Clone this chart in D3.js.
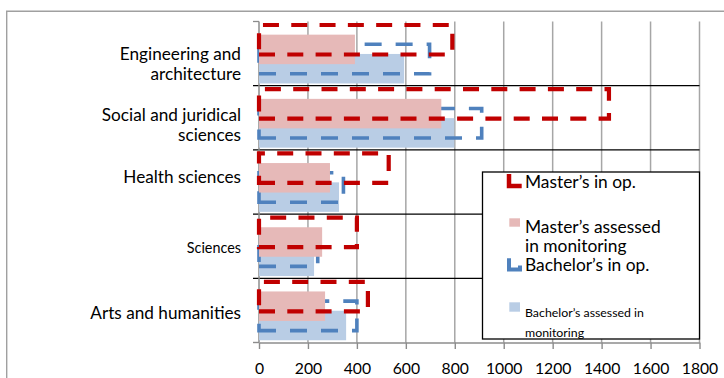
<!DOCTYPE html>
<html><head><meta charset="utf-8">
<script src="https://cdn.jsdelivr.net/npm/d3@7"></script>
<style>body{margin:0;background:#fff}svg{display:block}</style>
</head><body><svg id="c" width="724" height="378"></svg>
<script>
// ---------------- data ----------------
const categories = ["Engineering and architecture", "Social and juridical sciences", "Health sciences", "Sciences", "Arts and humanities"];
const categoryLines = [["Engineering and", "architecture"], ["Social and juridical", "sciences"], ["Health sciences"], ["Sciences"], ["Arts and humanities"]];
const mastersInOp = [790, 1430, 530, 400, 445];
const mastersAssessed = [392, 745, 290, 258, 270];
const bachelorsInOp = [697, 910, 345, 240, 400];
const bachelorsAssessed = [593, 798, 327, 225, 356];
const xTicks = [0, 200, 400, 600, 800, 1000, 1200, 1400, 1600, 1800];
const seriesNames = ["Master’s in op.", "Master’s assessed in monitoring", "Bachelor’s in op.", "Bachelor’s assessed in monitoring"];

// ---------------- layout / style ----------------
const W = 724, H = 378;
const FONT = "Lato, 'Open Sans', sans-serif";
const svg = d3.select("#c");
svg.append("rect").attr("width", W).attr("height", H).attr("fill", "#fff");
svg.append("path").attr("d", "M6.7,378V11.2H724").attr("fill", "none")
  .attr("stroke", "#a0a0a0").attr("stroke-width", 1.4);

function fit(sample, target) {
  const t = svg.append("text").attr("font-family", FONT).attr("font-size", 100).text(sample);
  const w = t.node().getComputedTextLength();
  t.remove();
  return 100 * target / w;
}
const catSize = fit("Social and juridical", 139.3);
const sciSize = fit("Sciences", 54.3);
const tickFont = fit("1000", 36.5);
const legSize = fit("Master’s assessed", 135.7);
const legSmall = fit("Bachelor’s assessed in", 119);

const x = d3.scaleLinear().domain([0, 1800]).range([259, 699.5]);
const y = d3.scaleBand().domain(categories).range([21.5, 342.5]).padding(0);
const [y0, y1] = y.range();

// vertical gridlines
svg.append("g").selectAll("line").data(xTicks.filter(t => t > 0)).join("line")
  .attr("x1", d => x(d)).attr("x2", d => x(d)).attr("y1", y0).attr("y2", y1)
  .attr("stroke", "#a6a6a6").attr("stroke-width", 1.5);

// category boundary lines
const bounds = categories.map(c => y(c)).concat([y1]);
svg.append("g").selectAll("line").data(bounds.slice(1, -1)).join("line")
  .attr("x1", 253).attr("x2", x(1800)).attr("y1", d => d).attr("y2", d => d)
  .attr("stroke", "#000").attr("stroke-width", 1.3);
svg.append("line").attr("x1", 253).attr("x2", x(0)).attr("y1", y0).attr("y2", y0)
  .attr("stroke", "#8c8c8c").attr("stroke-width", 1.3);
// y axis line
svg.append("line").attr("x1", x(0)).attr("x2", x(0)).attr("y1", y0).attr("y2", y1)
  .attr("stroke", "#8c8c8c").attr("stroke-width", 1.5);

// x axis
const xAxis = svg.append("g").attr("transform", `translate(0,${y1})`)
  .call(d3.axisBottom(x).tickValues(xTicks).tickSize(6.5).tickSizeOuter(0).tickFormat(d3.format("d")));
xAxis.select(".domain").attr("stroke", "#8c8c8c").attr("stroke-width", 1.4);
xAxis.selectAll(".tick line").attr("stroke", "#8c8c8c").attr("stroke-width", 1.4);
xAxis.selectAll(".tick text").attr("y", 31.5).attr("dy", 0).attr("fill", "#000")
  .attr("font-family", FONT).attr("font-size", tickFont);
svg.append("line").attr("x1", 253).attr("x2", x(0)).attr("y1", y1).attr("y2", y1)
  .attr("stroke", "#8c8c8c").attr("stroke-width", 1.4);

// category labels (baseline offsets from band top)
const labelOffsets = [[38, 58], [35.2, 55.4], [32.9], [39.3], [41.1]];
categories.forEach((c, i) => {
  const t = svg.append("text").attr("text-anchor", "end").attr("font-family", FONT)
    .attr("font-size", c === "Sciences" ? sciSize : catSize).attr("fill", "#000");
  categoryLines[i].forEach((ln, j) => {
    t.append("tspan").attr("x", 241).attr("y", y(c) + labelOffsets[i][j]).text(ln);
  });
});

// bars
const BAR_H = 29.5, STEP = 9.65, OFF = 3.5;
const series = [
  { vals: bachelorsAssessed, idx: 3, type: "fill", color: "#B9CDE5" },
  { vals: bachelorsInOp, idx: 2, type: "dash", color: "#4F81BD", dash: "17,14", w: 3.6 },
  { vals: mastersAssessed, idx: 1, type: "fill", color: "#E6B9B8" },
  { vals: mastersInOp, idx: 0, type: "dash", color: "#C00000", dash: "16,12.3", w: 4.2 }
];
series.forEach(s => {
  const g = svg.append("g");
  const top = i => y(categories[i]) + OFF + s.idx * STEP;
  if (s.type === "fill") {
    g.selectAll("rect").data(s.vals).join("rect")
      .attr("x", x(0)).attr("y", (d, i) => top(i))
      .attr("width", d => x(d) - x(0)).attr("height", BAR_H).attr("fill", s.color);
  } else {
    g.selectAll("path").data(s.vals).join("path")
      .attr("d", (d, i) => `M${x(0)},${top(i) + BAR_H}H${x(d)}V${top(i)}H${x(0)}Z`)
      .attr("fill", "none").attr("stroke", s.color).attr("stroke-width", s.w)
      .attr("stroke-dasharray", s.dash);
  }
});

// legend
const L = { x: 482.5, y: 172, w: 217, h: 167 };
svg.append("clipPath").attr("id", "lc").append("rect")
  .attr("x", L.x).attr("y", L.y).attr("width", L.w).attr("height", L.h);
svg.append("rect").attr("x", L.x).attr("y", L.y).attr("width", L.w).attr("height", L.h)
  .attr("fill", "#fff");
const lg = svg.append("g").attr("clip-path", "url(#lc)");
lg.append("path").attr("d", "M509,174V186H521.7").attr("fill", "none")
  .attr("stroke", "#C00000").attr("stroke-width", 4.5);
lg.append("rect").attr("x", 509.3).attr("y", 218.3).attr("width", 10.7).attr("height", 8.4).attr("fill", "#E6B9B8");
lg.append("path").attr("d", "M509,258.3V269.5H520V265.5").attr("fill", "none")
  .attr("stroke", "#4F81BD").attr("stroke-width", 4);
lg.append("rect").attr("x", 509.3).attr("y", 302.3).attr("width", 10.7).attr("height", 9.4).attr("fill", "#B9CDE5");
const legendText = [
  { lines: [seriesNames[0]], ys: [188.3], size: legSize },
  { lines: ["Master’s assessed", "in monitoring"], ys: [232.7, 251.7], size: legSize },
  { lines: [seriesNames[2]], ys: [271], size: legSize },
  { lines: ["Bachelor’s assessed in", "monitoring"], ys: [316.7, 336.9], size: legSmall }
];
legendText.forEach(e => {
  const t = lg.append("text").attr("font-family", FONT).attr("font-size", e.size).attr("fill", "#000");
  e.lines.forEach((ln, j) => t.append("tspan").attr("x", 525).attr("y", e.ys[j]).text(ln));
});
svg.append("rect").attr("x", L.x).attr("y", L.y).attr("width", L.w).attr("height", L.h)
  .attr("fill", "none").attr("stroke", "#000").attr("stroke-width", 1.3);
</script></body></html>
